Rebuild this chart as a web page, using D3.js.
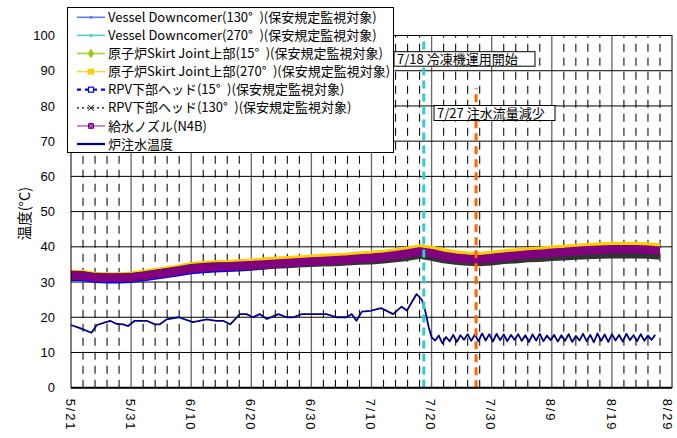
<!DOCTYPE html>
<html>
<head>
<meta charset="utf-8">
<script src="https://cdn.jsdelivr.net/npm/d3@7"></script>
<style>
  body { margin: 0; background: #fff; }
  svg { display: block; }
</style>
</head>
<body>
<svg id="chart" width="677" height="438"></svg>
<script>
// ---- axis labels ----
const xTickDays = [0, 10, 20, 30, 40, 50, 60, 70, 80, 90, 100];
const xTickLabels = ["5/21", "5/31", "6/10", "6/20", "6/30", "7/10", "7/20", "7/30", "8/9", "8/19", "8/29"];
const yTicks = [0, 10, 20, 30, 40, 50, 60, 70, 80, 90, 100];
const yTitle = "温度(°C)";

// ---- RPV temperatures, sampled every 2 days (days since 5/21) ----
const days = [0, 2, 4, 6, 8, 10, 12, 14, 16, 18, 20, 22, 24, 26, 28, 30, 32, 34, 36, 38,
              40, 42, 44, 46, 48, 50, 52, 54, 56, 58, 60, 62, 64, 66, 68, 70, 72, 74, 76, 78,
              80, 82, 84, 86, 88, 90, 92, 94, 96, 98];
const vesselDc130 = [31.5, 31.4, 30.9, 30.8, 30.8, 30.9, 31.3, 31.8, 32.3, 32.8, 33.4, 33.7, 33.9, 34.0, 34.2, 34.4, 34.6, 34.8, 35.0, 35.2,
                     35.4, 35.6, 35.8, 36.0, 36.3, 36.5, 36.8, 37.2, 37.7, 38.3, 37.8, 37.0, 36.5, 36.2, 36.1, 36.4, 36.8, 37.1, 37.4, 37.6,
                     37.9, 38.1, 38.4, 38.6, 38.8, 38.9, 38.9, 38.9, 38.8, 38.5];
const vesselDc270 = [32.0, 31.9, 31.4, 31.3, 31.3, 31.4, 31.8, 32.3, 32.8, 33.3, 33.9, 34.2, 34.4, 34.5, 34.7, 34.9, 35.1, 35.3, 35.5, 35.7,
                     35.9, 36.1, 36.3, 36.5, 36.8, 37.0, 37.3, 37.7, 38.2, 38.8, 38.3, 37.5, 37.0, 36.7, 36.6, 36.9, 37.3, 37.6, 37.9, 38.1,
                     38.4, 38.6, 38.9, 39.1, 39.3, 39.4, 39.4, 39.4, 39.3, 39.0];
const skirt15 = [32.2, 32.1, 31.6, 31.5, 31.5, 31.6, 32.0, 32.5, 33.0, 33.5, 34.1, 34.4, 34.6, 34.7, 34.9, 35.1, 35.3, 35.5, 35.7, 35.9,
                 36.1, 36.3, 36.5, 36.7, 37.0, 37.2, 37.5, 37.9, 38.4, 39.0, 38.5, 37.7, 37.2, 36.9, 36.8, 37.1, 37.5, 37.8, 38.1, 38.3,
                 38.6, 38.8, 39.1, 39.3, 39.5, 39.6, 39.6, 39.6, 39.5, 39.2];
const skirt270 = [32.3, 32.2, 31.7, 31.6, 31.6, 31.8, 32.3, 32.8, 33.3, 33.8, 34.5, 34.8, 35.0, 35.1, 35.3, 35.5, 35.8, 36.0, 36.2, 36.4,
                  36.6, 36.8, 37.0, 37.2, 37.5, 37.7, 38.0, 38.4, 38.9, 39.5, 39.1, 38.3, 37.8, 37.5, 37.4, 37.7, 38.1, 38.4, 38.7, 38.9,
                  39.2, 39.4, 39.7, 39.9, 40.1, 40.2, 40.2, 40.2, 40.1, 39.8];
const rpvHead15 = [30.6, 30.5, 30.0, 29.9, 29.9, 30.0, 30.4, 30.9, 31.4, 31.9, 32.5, 32.8, 33.0, 33.1, 33.3, 33.5, 33.8, 34.3, 34.8, 35.0,
                   35.2, 35.4, 35.6, 35.8, 36.1, 36.3, 36.6, 37.0, 37.5, 38.1, 37.6, 36.8, 36.3, 36.0, 35.9, 36.2, 36.6, 36.9, 37.2, 37.4,
                   37.7, 37.9, 38.2, 38.4, 38.6, 38.7, 38.7, 38.7, 38.6, 38.3];
const rpvHead130 = [32.0, 31.9, 31.4, 31.3, 31.3, 31.4, 31.8, 32.3, 32.8, 33.3, 33.9, 34.2, 34.4, 34.4, 34.5, 34.6, 34.8, 35.0, 35.1, 35.3,
                    35.5, 35.6, 35.7, 35.9, 36.1, 36.2, 36.5, 36.8, 37.2, 37.8, 37.2, 36.5, 36.1, 35.8, 35.7, 35.9, 36.3, 36.5, 36.8, 36.9,
                    37.2, 37.3, 37.5, 37.7, 37.8, 37.9, 37.9, 37.9, 37.8, 37.5];
const fwNozzle = [31.9, 31.8, 31.3, 31.2, 31.2, 31.3, 31.7, 32.2, 32.7, 33.2, 33.8, 34.1, 34.3, 34.4, 34.6, 34.8, 35.0, 35.2, 35.4, 35.6,
                  35.8, 36.0, 36.2, 36.4, 36.7, 36.9, 37.2, 37.6, 38.1, 38.7, 38.2, 37.4, 36.9, 36.6, 36.5, 36.8, 37.2, 37.5, 37.8, 38.0,
                  38.3, 38.5, 38.8, 39.0, 39.2, 39.3, 39.3, 39.3, 39.2, 38.9];

// ---- injection water temperature (days since 5/21) ----
const injDays = [0, 1.5, 3.4, 4.3, 6.5, 7.6, 8.7, 9.5, 10.6, 12.6, 14.0, 14.8, 15.9, 17.9, 20.3, 22.6, 24.2, 25.3, 26.5, 28.1,
                 29.2, 30.3, 31.4, 32.6, 34.5, 35.9, 37.0, 38.4, 42.5, 44.2, 45.9, 46.7, 47.5, 48.4, 49.8, 51.6, 53.6, 55.0, 55.9, 57.5,
                 58.4, 58.9, 59.5, 60.0,
                 60.6, 61.2, 61.8, 62.4, 63.0, 63.6, 64.2, 64.8, 65.4, 66.0, 66.6, 67.2, 67.8, 68.4, 69.0, 69.6, 70.2, 70.8, 71.4, 72.0,
                 72.6, 73.2, 73.8, 74.4, 75.0, 75.6, 76.2, 76.8, 77.4, 78.0, 78.6, 79.2, 79.8, 80.4, 81.0, 81.6, 82.2, 82.8, 83.4, 84.0,
                 84.6, 85.2, 85.8, 86.4, 87.0, 87.6, 88.2, 88.8, 89.4, 90.0, 90.6, 91.2, 91.8, 92.4, 93.0, 93.6, 94.2, 94.8, 95.4, 96.0,
                 96.6, 97.2];
const injTemp = [17.8, 16.9, 15.6, 17.8, 19.0, 18.1, 18.0, 17.5, 19.0, 19.0, 18.0, 18.0, 19.4, 20.0, 18.6, 19.4, 19.0, 19.0, 18.0, 20.9,
                 20.9, 20.0, 20.9, 19.5, 20.9, 20.0, 20.0, 20.9, 20.9, 20.0, 20.0, 20.9, 19.0, 21.6, 21.8, 22.6, 20.9, 23.0, 21.9, 26.6,
                 24.9, 22.1, 17.3, 14.3,
                 13.4, 14.8, 12.6, 14.4, 13.2, 15.0, 13.0, 14.9, 13.6, 15.2, 13.3, 15.1, 13.2, 15.4, 13.4, 15.2, 13.1, 15.3, 13.5, 15.1,
                 13.2, 15.0, 13.6, 15.2, 13.3, 14.9, 13.0, 15.1, 13.4, 15.3, 13.2, 14.8, 13.5, 15.0, 13.1, 14.9, 13.3, 15.2, 13.0, 14.7,
                 13.4, 15.3, 13.2, 15.0, 12.9, 15.4, 13.3, 15.1, 13.0, 15.2, 13.4, 15.0, 13.1, 15.3, 13.5, 14.9, 13.2, 15.2, 13.3, 14.8,
                 13.6, 15.0];

// ---- events ----
const eventDays = [58.7, 67.4];
const eventTop = [100, 85];
const eventLabels = ["7/18 冷凍機運用開始", "7/27 注水流量減少"];
const eventColors = ["#33cccc", "#ff6600"];

// ---- series styling (draw order) ----
const seriesNames = [
  "Vessel Downcomer(130°\u2002)(保安規定監視対象)",
  "Vessel Downcomer(270°\u2002)(保安規定監視対象)",
  "原子炉Skirt Joint上部(15°\u2002)(保安規定監視対象)",
  "原子炉Skirt Joint上部(270°\u2002)(保安規定監視対象)",
  "RPV下部ヘッド(15°\u2002)(保安規定監視対象)",
  "RPV下部ヘッド(130°\u2002)(保安規定監視対象)",
  "給水ノズル(N4B)",
  "炉注水温度"
];
const seriesValues = [vesselDc130, vesselDc270, skirt15, skirt270, rpvHead15, rpvHead130, fwNozzle];
const seriesColors = ["#3366ff", "#33cccc", "#99cc00", "#ffcc00", "#0000ff", "#333333", "#800080", "#000080"];
const seriesWidths = [2, 2, 3, 8.5, 2, 8.5, 8.5];
const legendLineColors = ["#5b7ff0", "#55cccc", "#a8d040", "#ffd24d", "#0000ff", "#000000", "#c070c0", "#000080"];
const legendMarkers = ["dot", "dot", "diamond", "square", "hollow", "cross", "xbox", "none"];

const svg = d3.select("#chart");
const W = 677, H = 438;
const x = d3.scaleLinear().domain([0, 100]).range([71, 672]);
const y = d3.scaleLinear().domain([0, 100]).range([387.7, 35.5]);

svg.append("rect").attr("width", W).attr("height", H).attr("fill", "#fff");

// ---- gridlines ----
const grid = svg.append("g");
const minorDays = d3.range(2, 100, 2).filter(d => d % 10 !== 0);
grid.selectAll("line.minor").data(minorDays).join("line")
  .attr("x1", d => x(d)).attr("x2", d => x(d))
  .attr("y1", y(0)).attr("y2", y(100))
  .attr("stroke", "#111").attr("stroke-width", 1.1)
  .attr("stroke-dasharray", "8,6");
grid.selectAll("line.majorV").data(xTickDays.slice(1, -1)).join("line")
  .attr("x1", d => x(d)).attr("x2", d => x(d))
  .attr("y1", y(0)).attr("y2", y(100))
  .attr("stroke", "#666").attr("stroke-width", 1.3);
grid.selectAll("line.majorH").data(yTicks.slice(1)).join("line")
  .attr("x1", x(0)).attr("x2", x(100))
  .attr("y1", d => y(d)).attr("y2", d => y(d))
  .attr("stroke", "#000").attr("stroke-width", 1);

// ---- data lines ----
const plot = svg.append("g");
seriesValues.forEach((vals, i) => {
  const line = d3.line().x((d, k) => x(days[k])).y(d => y(d));
  plot.append("path")
    .datum(vals)
    .attr("d", line)
    .attr("fill", "none")
    .attr("stroke", seriesColors[i])
    .attr("stroke-width", seriesWidths[i])
    .attr("stroke-linejoin", "round");
});
const injLine = d3.line().x((d, k) => x(injDays[k])).y(d => y(d));
plot.append("path")
  .datum(injTemp)
  .attr("d", injLine)
  .attr("fill", "none")
  .attr("stroke", seriesColors[7])
  .attr("stroke-width", 1.8)
  .attr("stroke-linejoin", "round");

// ---- event markers ----
eventDays.forEach((d, i) => {
  svg.append("line")
    .attr("x1", x(d)).attr("x2", x(d))
    .attr("y1", y(eventTop[i])).attr("y2", y(0))
    .attr("stroke", eventColors[i]).attr("stroke-width", 3)
    .attr("stroke-dasharray", "8,5").attr("stroke-dashoffset", -6);
});

// ---- frame ----
svg.append("rect")
  .attr("x", x(0)).attr("y", y(100))
  .attr("width", x(100) - x(0)).attr("height", y(0) - y(100))
  .attr("fill", "none").attr("stroke", "#000").attr("stroke-width", 1);
svg.append("line")
  .attr("x1", x(0)).attr("x2", x(100)).attr("y1", y(0)).attr("y2", y(0))
  .attr("stroke", "#000").attr("stroke-width", 2);

// ---- axes ----
const yAxis = svg.append("g")
  .attr("transform", `translate(${x(0)},0)`)
  .call(d3.axisLeft(y).tickValues(yTicks).tickSize(0).tickPadding(16));
yAxis.select(".domain").remove();
yAxis.selectAll("text")
  .attr("font-family", "'Liberation Sans', Arial, sans-serif")
  .attr("font-size", 13).attr("fill", "#000");

const xAxis = svg.append("g")
  .attr("transform", `translate(0,${y(0)})`)
  .call(d3.axisBottom(x).tickValues(xTickDays).tickFormat((d, i) => xTickLabels[i]).tickSize(0));
xAxis.select(".domain").remove();
xAxis.selectAll("text")
  .attr("font-family", "'Liberation Sans', Arial, sans-serif")
  .attr("font-size", 13).attr("fill", "#000")
  .attr("letter-spacing", 1.8)
  .attr("x", 11).attr("y", 0)
  .attr("dy", (d, i) => i === xTickDays.length - 1 ? "0.75em" : "0.45em")
  .attr("text-anchor", "start")
  .attr("transform", "rotate(90)");

svg.append("text")
  .attr("transform", `translate(25,${(y(0) + y(100)) / 2 + 2}) rotate(-90)`)
  .attr("text-anchor", "middle")
  .attr("dy", "0.35em")
  .attr("font-family", "'Noto Sans CJK JP', sans-serif")
  .attr("font-size", 14.5)
  .text(yTitle);

// ---- event captions ----
const capBoxes = [[394, 51.7, 141, 14.5], [434, 105.5, 121, 15]];
eventLabels.forEach((t, i) => {
  const b = capBoxes[i];
  svg.append("rect").attr("x", b[0]).attr("y", b[1]).attr("width", b[2]).attr("height", b[3])
    .attr("fill", "#fff").attr("stroke", "#000").attr("stroke-width", 1);
  svg.append("text").attr("x", b[0] + 3).attr("y", b[1] + b[3] / 2).attr("dy", "0.36em")
    .attr("font-family", "'Noto Sans CJK JP', sans-serif").attr("font-size", 13)
    .attr("fill", "#000").text(t);
});

// ---- legend ----
const lg = svg.append("g");
lg.append("rect").attr("x", 67.5).attr("y", 7.5).attr("width", 326).attr("height", 145)
  .attr("fill", "#fff").attr("stroke", "#000").attr("stroke-width", 1);
seriesNames.forEach((name, i) => {
  const cy = 17.3 + i * 18.1;
  const g = lg.append("g");
  const ln = g.append("line").attr("x1", 77).attr("x2", 105).attr("y1", cy).attr("y2", cy)
    .attr("stroke", legendLineColors[i]).attr("stroke-width", i === 7 ? 2.2 : 1.6);
  if (legendMarkers[i] === "hollow") ln.attr("stroke-dasharray", "4,4").attr("stroke-width", 2.2);
  if (legendMarkers[i] === "cross") ln.attr("stroke-dasharray", "2,3").attr("stroke-width", 1.2);
  const mx = 91;
  switch (legendMarkers[i]) {
    case "dot":
      g.append("circle").attr("cx", mx).attr("cy", cy).attr("r", 1.6).attr("fill", legendLineColors[i]);
      break;
    case "diamond":
      g.append("path").attr("transform", `translate(${mx},${cy})`)
        .attr("d", d3.symbol(d3.symbolDiamond, 30)()).attr("fill", "#99cc00");
      break;
    case "square":
      g.append("rect").attr("x", mx - 3).attr("y", cy - 3).attr("width", 6).attr("height", 6).attr("fill", "#ffcc00");
      break;
    case "hollow":
      g.append("rect").attr("x", mx - 2.5).attr("y", cy - 2.5).attr("width", 5).attr("height", 5)
        .attr("fill", "#fff").attr("stroke", "#0000ff").attr("stroke-width", 1.2);
      break;
    case "cross":
      g.append("path").attr("d", `M${mx - 3},${cy - 3}L${mx + 3},${cy + 3}M${mx - 3},${cy + 3}L${mx + 3},${cy - 3}`)
        .attr("stroke", "#000").attr("stroke-width", 1);
      break;
    case "xbox":
      g.append("rect").attr("x", mx - 3).attr("y", cy - 3).attr("width", 6).attr("height", 6).attr("fill", "#800080");
      g.append("path").attr("d", `M${mx - 2.5},${cy - 2.5}L${mx + 2.5},${cy + 2.5}M${mx - 2.5},${cy + 2.5}L${mx + 2.5},${cy - 2.5}`)
        .attr("stroke", "#d8a8d8").attr("stroke-width", 0.8);
      break;
  }
  g.append("text").attr("x", 108).attr("y", cy).attr("dy", "0.36em")
    .attr("font-family", "'Noto Sans CJK JP', sans-serif").attr("font-size", 13)
    .attr("fill", "#000").text(name);
});
</script>
</body>
</html>
